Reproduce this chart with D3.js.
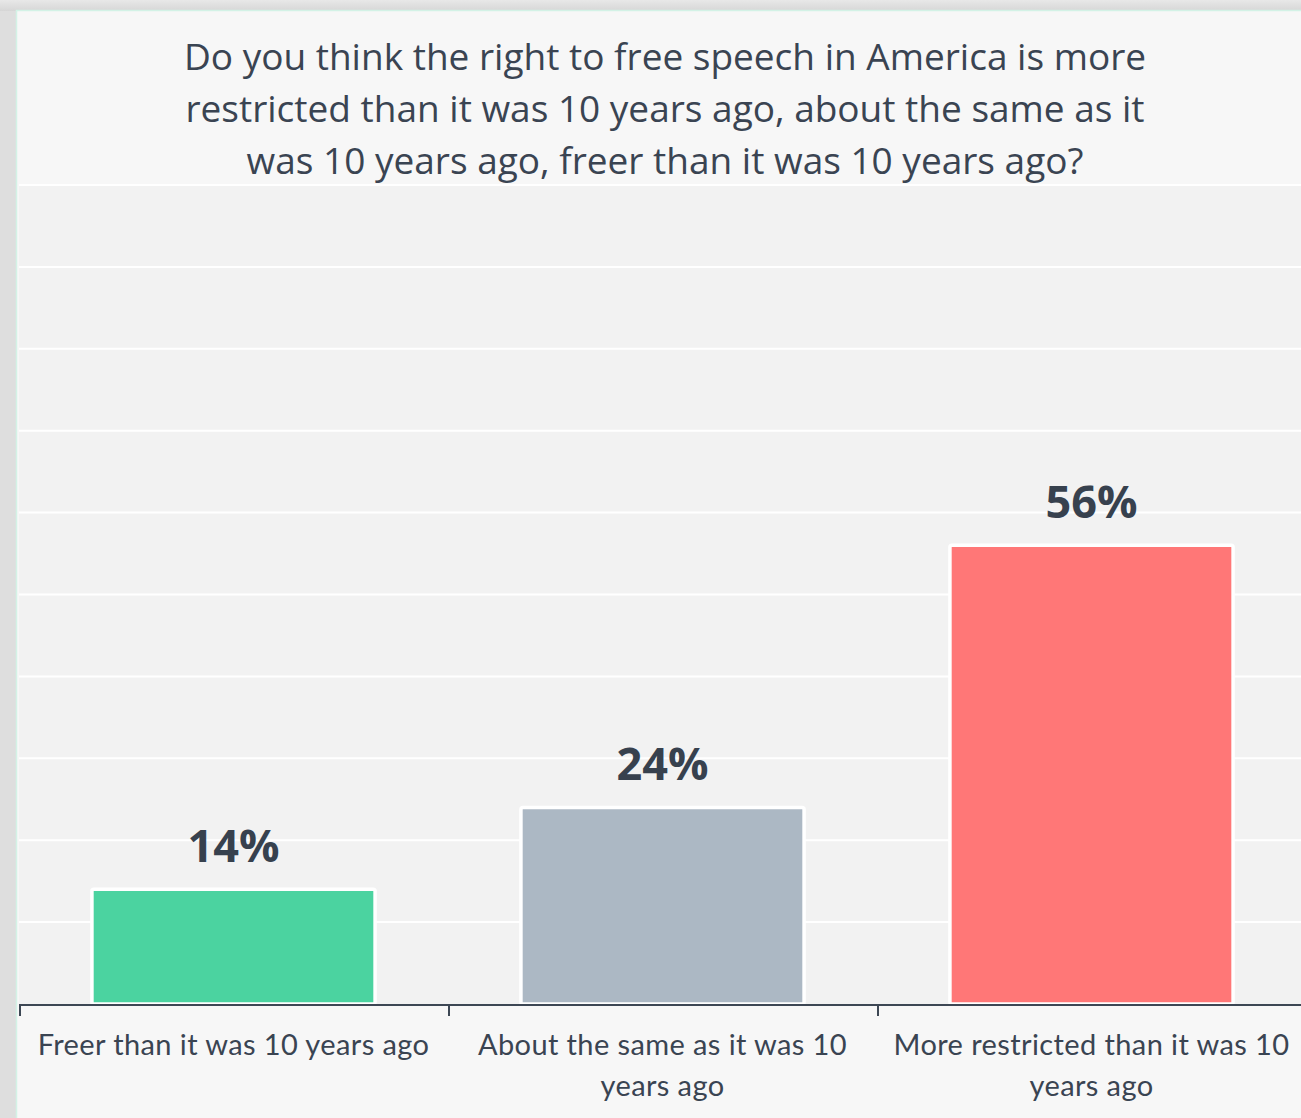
<!DOCTYPE html>
<html>
<head>
<meta charset="utf-8">
<script src="https://cdn.jsdelivr.net/npm/d3@7"></script>
<style>
  html, body { margin: 0; padding: 0; background: #dedede; }
  svg { display: block; }
</style>
</head>
<body>
<div id="chart"></div>
<script>
const width = 1301;
const height = 1118;

const titleLines = [
  "Do you think the right to free speech in America is more",
  "restricted than it was 10 years ago, about the same as it",
  "was 10 years ago, freer than it was 10 years ago?"
];
const categories = ["freer", "same", "restricted"];
const categoryLabels = [
  ["Freer than it was 10 years ago"],
  ["About the same as it was 10", "years ago"],
  ["More restricted than it was 10", "years ago"]
];
const values = [14, 24, 56];
const barColors = ["#4bd3a0", "#acb8c4", "#ff7777"];
const yTicks = [0, 10, 20, 30, 40, 50, 60, 70, 80, 90, 100];

const data = categories.map((c, i) => ({ key: c, label: categoryLabels[i], value: values[i], color: barColors[i] }));

const svg = d3.select("#chart")
    .append("svg")
    .attr("width", width)
    .attr("height", height);

// outer frame shading
const defs = svg.append("defs");
const shade = defs.append("linearGradient").attr("id", "shadeTop").attr("x1", 0).attr("y1", 0).attr("x2", 0).attr("y2", 1);
shade.append("stop").attr("offset", "0%").attr("stop-color", "#e8e8e8");
shade.append("stop").attr("offset", "100%").attr("stop-color", "#d6d6d6");
svg.append("rect").attr("width", width).attr("height", 11).attr("fill", "url(#shadeTop)");

// card
svg.append("rect")
    .attr("x", 16.5).attr("y", 10.5)
    .attr("width", width).attr("height", height)
    .attr("fill", "#f7f7f7")
    .attr("stroke", "#d3f2e6")
    .attr("stroke-width", 1.5);

const x = d3.scaleBand()
    .domain(categories)
    .range([19, 1306])
    .paddingInner(0.34)
    .paddingOuter(0.17);

const y = d3.scaleLinear()
    .domain([0, 100])
    .range([1004, 185]);

// plot area
svg.append("rect")
    .attr("x", 19).attr("y", y(100))
    .attr("width", width - 19).attr("height", y(0) - y(100))
    .attr("fill", "#f2f2f2");

// gridlines
svg.append("g")
    .selectAll("line")
    .data(yTicks.filter(t => t > 0))
    .join("line")
    .attr("x1", 19).attr("x2", width)
    .attr("y1", d => y(d)).attr("y2", d => y(d))
    .attr("stroke", "#ffffff")
    .attr("stroke-width", 2);

// title
svg.append("text")
    .attr("text-anchor", "middle")
    .style("font-family", "'Open Sans', sans-serif")
    .style("font-size", "37px")
    .style("fill", "#3a4452")
    .selectAll("tspan")
    .data(titleLines)
    .join("tspan")
    .attr("x", 665)
    .attr("y", (d, i) => 70 + i * 52)
    .text(d => d);

// bars
svg.append("g")
    .selectAll("rect")
    .data(data)
    .join("rect")
    .attr("x", d => x(d.key))
    .attr("y", d => y(d.value))
    .attr("width", x.bandwidth())
    .attr("height", d => y(0) - y(d.value))
    .attr("rx", 2)
    .attr("fill", d => d.color)
    .attr("stroke", "#ffffff")
    .attr("stroke-width", 3.5);

// value labels
svg.append("g")
    .selectAll("text")
    .data(data)
    .join("text")
    .attr("x", d => x(d.key) + x.bandwidth() / 2)
    .attr("y", d => y(d.value) - 27)
    .attr("text-anchor", "middle")
    .style("font-family", "'Open Sans', sans-serif")
    .style("font-weight", "bold")
    .style("font-size", "45px")
    .style("fill", "#37414e")
    .text(d => d.value + "%");

// category axis (ticks on band boundaries)
const axis = svg.append("g");
axis.append("line")
    .attr("x1", 19).attr("x2", width)
    .attr("y1", y(0) + 1).attr("y2", y(0) + 1)
    .attr("stroke", "#3d4754")
    .attr("stroke-width", 2);
axis.selectAll("line.tick")
    .data(d3.range(categories.length + 1))
    .join("line")
    .attr("class", "tick")
    .attr("x1", i => x.range()[0] + i * x.step() + 1)
    .attr("x2", i => x.range()[0] + i * x.step() + 1)
    .attr("y1", y(0))
    .attr("y2", y(0) + 12)
    .attr("stroke", "#3d4754")
    .attr("stroke-width", 2);

axis.selectAll("text")
    .data(data)
    .join("text")
    .attr("text-anchor", "middle")
    .style("font-family", "Lato, sans-serif")
    .style("font-size", "29px")
    .style("letter-spacing", "0.4px")
    .style("fill", "#3a4452")
    .selectAll("tspan")
    .data(d => d.label.map(l => ({ l, cx: x(d.key) + x.bandwidth() / 2 })))
    .join("tspan")
    .attr("x", d => d.cx)
    .attr("y", (d, i) => 1055 + i * 41)
    .text(d => d.l);
</script>
</body>
</html>
